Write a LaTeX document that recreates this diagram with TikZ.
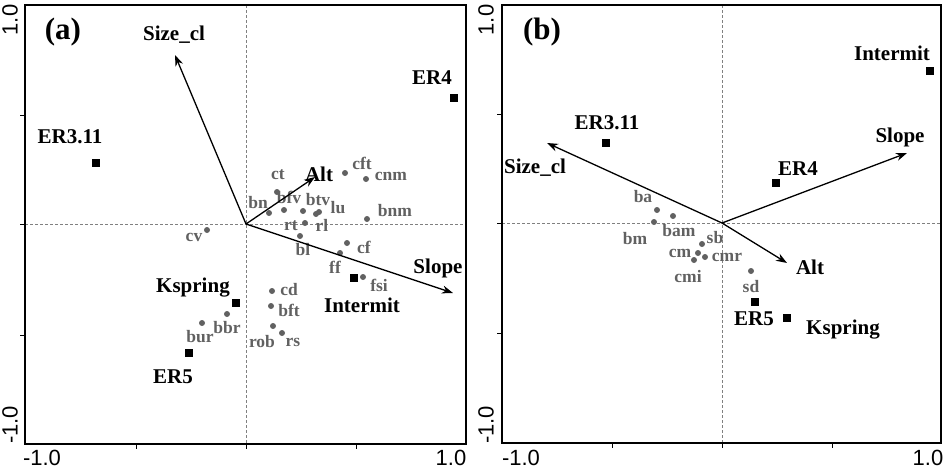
\documentclass[tikz,border=0pt]{standalone}
\usepackage{fontspec}
\setmainfont{Liberation Serif}
\newfontfamily\axisfont{Liberation Sans}
\usepackage{tikz}
\usetikzlibrary{positioning, arrows.meta}

\begin{document}
\begin{tikzpicture}[
    x=1pt, y=-1pt,
    frame/.style={draw=black, line width=1.6pt},
    axisline/.style={draw=black!50, densely dashed, line width=0.6pt},
    tickmark/.style={draw=black, line width=1pt},
    vec/.style={draw, line width=1.3pt, -{Stealth[length=11pt, width=8pt]}},
    site/.style={rectangle, fill=black, inner sep=0pt, minimum size=8pt},
    taxon/.style={circle, fill=black!62, inner sep=0pt, minimum size=6pt},
    envlab/.style={font=\fontsize{21}{21}\selectfont\bfseries, inner sep=0pt},
    taxlab/.style={font=\fontsize{17.5}{17.5}\selectfont\bfseries, text=black!62, inner sep=0pt},
    panel/.style={font=\fontsize{31}{31}\selectfont\bfseries, inner sep=0pt},
    axnum/.style={font=\axisfont\fontsize{22}{22}\selectfont, inner sep=0pt}
    ]

    \useasboundingbox (0,0) rectangle (945,469);

    % Panel (a): axes
    \draw [axisline] (246,5) -- (246,444);
    \draw [axisline] (25,224) -- (466,224);
    \foreach \ty in {115,224,335} \draw [tickmark] (25,\ty) -- (20,\ty);
    \foreach \tx in {136,246,356} \draw [tickmark] (\tx,444) -- (\tx,449);
    \draw [frame] (25,5) rectangle (466,444);
    \node (ytopa) [axnum, rotate=90] at (10,20) {1.0};
    \node (ybota) [axnum, rotate=90] at (10,425) {-1.0};
    \node (xlefta) [axnum] at (42,458) {-1.0};
    \node (xrighta) [axnum] at (451,458) {1.0};
    \node (panela) [panel] at (63,32) {(a)};

    % Panel (a): taxa
    \node (cft) [taxon] at (345,173) {};
    \node (cnm) [taxon] at (366,179) {};
    \node (ct) [taxon] at (277,192) {};
    \node (bfv) [taxon] at (284,210) {};
    \node (bn) [taxon] at (269,213) {};
    \node (btv) [taxon] at (303,211) {};
    \node (lu) [taxon] at (319,212) {};
    \node (rl) [taxon] at (316,214) {};
    \node (rt) [taxon] at (305,223) {};
    \node (bnm) [taxon] at (367,219) {};
    \node (cv) [taxon] at (207,230) {};
    \node (bl) [taxon] at (300,236) {};
    \node (cf) [taxon] at (347,243) {};
    \node (ff) [taxon] at (340,253) {};
    \node (fsi) [taxon] at (363,277) {};
    \node (cd) [taxon] at (272,291) {};
    \node (bft) [taxon] at (271,306) {};
    \node (rob) [taxon] at (273,326) {};
    \node (rs) [taxon] at (282,333) {};
    \node (bbr) [taxon] at (227,314) {};
    \node (bur) [taxon] at (202,323) {};

    \node (cftlab) [taxlab] at (362,163) {cft};
    \node (cnmlab) [taxlab] at (391,176) {cnm};
    \node (ctlab) [taxlab] at (278,175) {ct};
    \node (bfvlab) [taxlab] at (289,197) {bfv};
    \node (bnlab) [taxlab] at (258,203) {bn};
    \node (btvlab) [taxlab] at (318,200) {btv};
    \node (lulab) [taxlab] at (338,208) {lu};
    \node (rllab) [taxlab] at (322,225) {rl};
    \node (rtlab) [taxlab] at (291,226) {rt};
    \node (bnmlab) [taxlab] at (395,211) {bnm};
    \node (cvlab) [taxlab] at (194,237) {cv};
    \node (bllab) [taxlab] at (303,250) {bl};
    \node (cflab) [taxlab] at (364,247) {cf};
    \node (fflab) [taxlab] at (335,267) {ff};
    \node (fsilab) [taxlab] at (379,285) {fsi};
    \node (cdlab) [taxlab] at (289,290) {cd};
    \node (bftlab) [taxlab] at (289,310) {bft};
    \node (roblab) [taxlab] at (262,342) {rob};
    \node (rslab) [taxlab] at (293,342) {rs};
    \node (bbrlab) [taxlab] at (227,328) {bbr};
    \node (burlab) [taxlab] at (200,337) {bur};

    % Panel (a): sites
    \node (era4) [site] at (454,98) {};
    \node (era311) [site] at (96,163) {};
    \node (kspra) [site] at (236,303) {};
    \node (era5) [site] at (189,353) {};
    \node (intera) [site] at (354,278) {};
    \node [envlab] at (432,78) {ER4};
    \node [envlab] at (70,137) {ER3.11};
    \node [envlab] at (193,288) {Kspring};
    \node [envlab] at (173,377) {ER5};
    \node [envlab] at (362,305) {Intermit};

    % Panel (a): vectors
    \coordinate (oa) at (246,224);
    \coordinate (sizea) at (175,55);
    \coordinate (alta) at (315,177);
    \coordinate (slopea) at (453,293);
    \draw [vec] (oa) -- (sizea);
    \draw [vec] (oa) -- (alta);
    \draw [vec] (oa) -- (slopea);
    \node [envlab] at (174,35) {Size\_cl};
    \node [envlab] at (319,174) {Alt};
    \node [envlab] at (438,268) {Slope};

    % Panel (b): axes
    \draw [axisline] (722,5) -- (722,443);
    \draw [axisline] (502,223) -- (941,223);
    \foreach \ty in {114,223,333} \draw [tickmark] (502,\ty) -- (497,\ty);
    \foreach \tx in {612,722,832} \draw [tickmark] (\tx,443) -- (\tx,448);
    \draw [frame] (502,5) rectangle (941,443);
    \node (ytopb) [axnum, rotate=90] at (486,20) {1.0};
    \node (ybotb) [axnum, rotate=90] at (486,425) {-1.0};
    \node (xleftb) [axnum] at (521,458) {-1.0};
    \node (xrightb) [axnum] at (928,458) {1.0};
    \node (panelb) [panel] at (542,32) {(b)};

    % Panel (b): taxa
    \node (ba) [taxon] at (657,210) {};
    \node (bam) [taxon] at (673,216) {};
    \node (bm) [taxon] at (654,222) {};
    \node (sb) [taxon] at (702,244) {};
    \node (cm) [taxon] at (698,253) {};
    \node (cmr) [taxon] at (705,257) {};
    \node (cmi) [taxon] at (694,260) {};
    \node (sd) [taxon] at (751,271) {};

    \node (balab) [taxlab] at (643,197) {ba};
    \node (bamlab) [taxlab] at (679,231) {bam};
    \node (bmlab) [taxlab] at (635,239) {bm};
    \node (sblab) [taxlab] at (715,238) {sb};
    \node (cmlab) [taxlab] at (680,253) {cm};
    \node (cmrlab) [taxlab] at (727,257) {cmr};
    \node (cmilab) [taxlab] at (688,277) {cmi};
    \node (sdlab) [taxlab] at (751,287) {sd};

    % Panel (b): sites
    \node (interb) [site] at (930,71) {};
    \node (erb311) [site] at (606,143) {};
    \node (erb4) [site] at (776,183) {};
    \node (erb5) [site] at (755,302) {};
    \node (ksprb) [site] at (787,318) {};
    \node [envlab] at (892,53) {Intermit};
    \node [envlab] at (607,123) {ER3.11};
    \node [envlab] at (798,169) {ER4};
    \node [envlab] at (754,319) {ER5};
    \node [envlab] at (843,330) {Kspring};

    % Panel (b): vectors
    \coordinate (ob) at (722,223);
    \coordinate (sizeb) at (547,143);
    \coordinate (altb) at (787,263);
    \coordinate (slopeb) at (907,153);
    \draw [vec] (ob) -- (sizeb);
    \draw [vec] (ob) -- (altb);
    \draw [vec] (ob) -- (slopeb);
    \node [envlab] at (535,168) {Size\_cl};
    \node [envlab] at (810,267) {Alt};
    \node [envlab] at (900,137) {Slope};
\end{tikzpicture}
\end{document}
